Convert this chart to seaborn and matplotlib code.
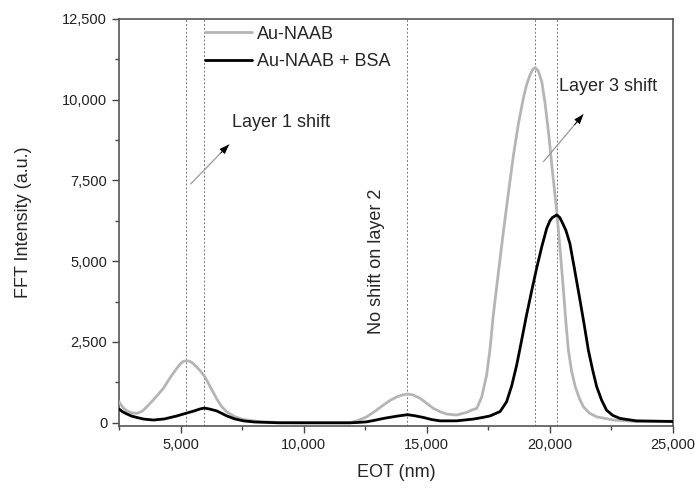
import numpy as np
import matplotlib
matplotlib.use("Agg")
import matplotlib.pyplot as plt
import seaborn as sns
from matplotlib.ticker import MultipleLocator, FuncFormatter

# ── data ────────────────────────────────────────────────────────────
gray_x = [2500, 2650, 2800, 3000, 3220, 3450, 3700, 4000, 4300, 4580, 4840, 5000,
          5120, 5250, 5380, 5500, 5650, 5820, 5990, 6200, 6460, 6650, 6870, 7200,
          7550, 8230, 9000, 10000, 11000, 11880, 12200, 12560, 12900, 13240, 13500,
          13780, 14000, 14210, 14450, 14730, 15000, 15270, 15550, 15810, 16210,
          16600, 16850, 17030, 17230, 17430, 17570, 17700, 17900, 18110, 18320,
          18520, 18720, 18920, 19050, 19190, 19300, 19400, 19530, 19670, 19800,
          19940, 20100, 20280, 20420, 20550, 20650, 20750, 20880, 21030, 21200,
          21360, 21600, 21900, 22580, 23500, 25000]
gray_y = [650, 480, 380, 310, 290, 360, 550, 800, 1065, 1400, 1680, 1830,
          1900, 1920, 1900, 1840, 1730, 1590, 1420, 1120, 750, 520, 340, 190,
          100, 30, 10, 0, 0, 0, 70, 185, 360, 550, 690,
          800, 860, 890, 860, 755, 600, 445, 340, 270, 240,
          320, 400, 445, 800, 1475, 2300, 3330, 4600, 5910, 7150,
          8285, 9250, 10040, 10450, 10760, 10930, 10990, 10880, 10550, 9900,
          9005, 7800, 6530, 5300, 4100, 3100, 2250, 1600, 1115, 750,
          495, 300, 185, 85, 40, 50]

black_x = [2500, 2650, 2800, 3000, 3220, 3500, 3900, 4350, 4840, 5200, 5520, 5800,
           5970, 6150, 6460, 6650, 6870, 7200, 7550, 8000, 9000, 10000, 11000,
           11880, 12200, 12560, 12900, 13240, 13780, 14210, 14500, 14860, 15200,
           15540, 16210, 16890, 17300, 17580, 17980, 18240, 18450, 18650, 18850,
           19050, 19250, 19460, 19670, 19870, 20000, 20100, 20280, 20400, 20500,
           20650, 20810, 21000, 21220, 21400, 21560, 21730, 21900, 22100, 22300,
           22550, 22850, 23500, 25000]
black_y = [425, 340, 280, 210, 165, 115, 85, 120, 210, 290, 360, 430,
           455, 430, 370, 300, 215, 120, 60, 25, 0, 0, 0,
           0, 10, 30, 80, 135, 205, 250, 220, 165, 100,
           60, 60, 115, 170, 215, 350, 650, 1150, 1785, 2550,
           3330, 4050, 4780, 5450, 6015, 6250, 6350, 6430, 6350, 6200,
           5950, 5550, 4750, 3800, 3000, 2250, 1650, 1115, 700, 390,
           230, 135, 60, 40]

peak_lines = [5220, 5970, 14210, 19400, 20300]
series_labels = ["Au-NAAB", "Au-NAAB + BSA"]

sns.set_style("ticks")
plt.rcParams["font.family"] = ["Liberation Sans", "DejaVu Sans"]

fig = plt.figure(figsize=(6.96, 4.88), dpi=100)
ax = fig.add_axes([0.171, 0.127, 0.796, 0.8346])

for xv in peak_lines:
    ax.axvline(xv, color="#777777", lw=0.7, ls=(0, (2, 2)), zorder=1)

sns.lineplot(x=gray_x, y=gray_y, ax=ax, color="#b5b5b5", lw=2.0,
             label=series_labels[0], zorder=3)
sns.lineplot(x=black_x, y=black_y, ax=ax, color="black", lw=2.0,
             label=series_labels[1], zorder=4)

ax.set_xlim(2500, 25000)
ax.set_ylim(-100, 12500)

ax.xaxis.set_major_locator(MultipleLocator(5000))
ax.xaxis.set_minor_locator(MultipleLocator(2500))
ax.yaxis.set_major_locator(MultipleLocator(2500))
ax.yaxis.set_minor_locator(MultipleLocator(1250))
fmt = FuncFormatter(lambda v, p: f"{int(v):,}")
ax.xaxis.set_major_formatter(fmt)
ax.yaxis.set_major_formatter(fmt)
ax.tick_params(which="major", length=5, width=1, color="#444444",
               labelsize=10.5, labelcolor="#222222", direction="out")
ax.tick_params(which="minor", length=3, width=1, color="#444444", direction="out")
ax.tick_params(top=False, right=False, which="both")

for sp in ax.spines.values():
    sp.set_visible(True)
    sp.set_color("#555555")
    sp.set_linewidth(1.2)

ax.set_xlabel("EOT (nm)", fontsize=13, labelpad=9)
ax.set_ylabel("FFT Intensity (a.u.)", fontsize=13, labelpad=22)

leg = ax.legend(loc="upper left", bbox_to_anchor=(0.155, 0.983), frameon=False,
                fontsize=13, handlelength=2.6, handletextpad=0.3,
                labelspacing=0.6, borderpad=0, borderaxespad=0)

# ── annotations ────────────────────────────────────────────────────
def shift_arrow(tail, head):
    ax.annotate("", xy=head, xytext=tail,
                arrowprops=dict(arrowstyle="-", color="#999999", lw=0.9,
                                shrinkA=0, shrinkB=0))
    mid = (tail[0] + 0.78 * (head[0] - tail[0]), tail[1] + 0.78 * (head[1] - tail[1]))
    ax.annotate("", xy=head, xytext=mid,
                arrowprops=dict(arrowstyle="-|>,head_length=0.6,head_width=0.22",
                                color="black", lw=0.6, shrinkA=0, shrinkB=0))

shift_arrow((5410, 7390), (6970, 8610))
shift_arrow((19740, 8080), (21360, 9545))

ax.text(7090, 9275, "Layer 1 shift", fontsize=13, va="center", ha="left")
ax.text(20370, 10390, "Layer 3 shift", fontsize=13, va="center", ha="left")
ax.text(12940, 5005, "No shift on layer 2", fontsize=13, rotation=90,
        va="center", ha="center")

fig.savefig("out.png", dpi=100)
